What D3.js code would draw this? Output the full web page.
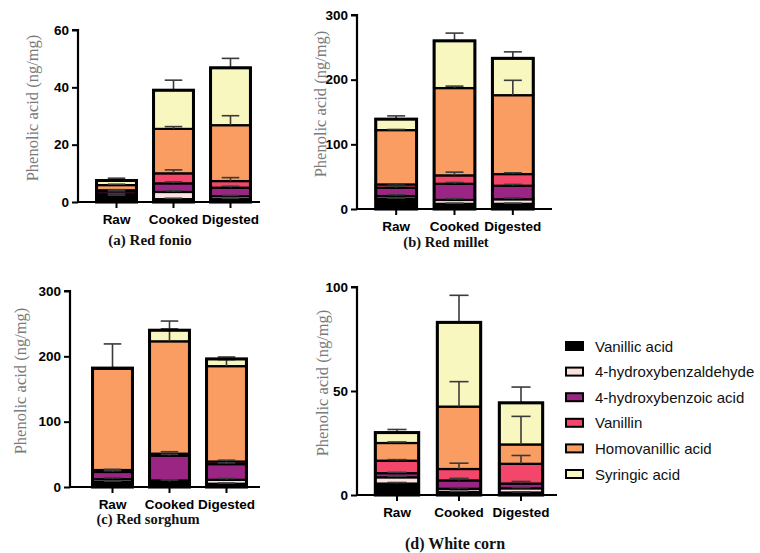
<!DOCTYPE html>
<html><head><meta charset="utf-8">
<script src="https://cdn.jsdelivr.net/npm/d3@7"></script>
<style>body{margin:0;background:#fff}svg{display:block}</style>
</head><body>
<svg id="chart" width="760" height="553"></svg>
<script>
const categories = ["Raw", "Cooked", "Digested"];
const compounds = ["Vanillic acid", "4-hydroxybenzaldehyde", "4-hydroxybenzoic acid", "Vanillin", "Homovanillic acid", "Syringic acid"];
const compoundColors = ["#000000", "#fbe2df", "#9b2583", "#f2476a", "#fa9d62", "#f8f7c0"];
const panelCaptions = ["(a) Red fonio", "(b) Red millet", "(c) Red sorghum", "(d) White corn"];
const yTitle = "Phenolic acid (ng/mg)";
const ticksA = [0, 20, 40, 60];
const ticksB = [0, 100, 200, 300];
const ticksC = [0, 100, 200, 300];
const ticksD = [0, 50, 100];

// rows = compounds, columns = Raw, Cooked, Digested
const fonioValues = [
  [2.2, 1.0, 1.0],
  [0.5, 2.5, 1.0],
  [1.0, 3.0, 3.0],
  [0.4, 3.5, 2.3],
  [1.8, 15.5, 19.5],
  [1.6, 13.5, 20.0]
];
const fonioErrors = [
  [0.2, 0.3, 0.3],
  [0.2, 0.4, 0.3],
  [0.2, 0.5, 0.5],
  [0.2, 1.2, 1.2],
  [0.3, 0.8, 3.3],
  [0.8, 3.5, 3.3]
];
const milletValues = [
  [16, 8, 8],
  [4, 6, 7],
  [13, 25, 21],
  [5, 13, 18],
  [84, 135, 122],
  [17, 73, 57]
];
const milletErrors = [
  [1, 1, 1],
  [2, 2, 2],
  [2, 2, 2],
  [1, 5, 2],
  [1, 3, 23],
  [5, 12, 10]
];
const sorghumValues = [
  [8, 8, 5],
  [4, 2, 6],
  [11, 38, 24],
  [3, 3, 4],
  [155, 172, 146],
  [1, 17, 11]
];
const sorghumErrors = [
  [1, 3, 1],
  [2, 1, 2],
  [2, 2, 2],
  [1, 3, 2],
  [1, 19, 10],
  [37, 14, 3]
];
const cornValues = [
  [5.5, 1.5, 1.2],
  [3.0, 1.5, 2.0],
  [2.0, 4.0, 2.3],
  [6.0, 5.5, 9.5],
  [8.5, 30.0, 9.3],
  [5.0, 40.5, 20.0]
];
const cornErrors = [
  [0.5, 0.3, 0.3],
  [0.5, 0.5, 0.4],
  [0.4, 1.0, 1.0],
  [0.5, 2.8, 4.0],
  [0.5, 12.0, 13.5],
  [1.5, 13.0, 7.6]
];

const panels = [
  {values: fonioValues, errors: fonioErrors, ticks: ticksA, ax: 78, yTop: 30, y0: 202, xr: [88, 259], xEnd: 260, titleX: 34, cap: [150, 245, 15]},
  {values: milletValues, errors: milletErrors, ticks: ticksB, ax: 357, yTop: 15, y0: 209, xr: [367, 542], xEnd: 552, titleX: 322, cap: [446, 247, 14.5]},
  {values: sorghumValues, errors: sorghumErrors, ticks: ticksC, ax: 70, yTop: 291, y0: 487, xr: [84, 255], xEnd: 260, titleX: 22, cap: [148, 524, 14.5]},
  {values: cornValues, errors: cornErrors, ticks: ticksD, ax: 357, yTop: 287, y0: 495, xr: [366, 552], xEnd: 557, titleX: 324, cap: [455, 549, 16]}
];

const svg = d3.select("#chart");

panels.forEach((p, pi) => {
  const g = svg.append("g");
  const y = d3.scaleLinear().domain([0, d3.max(p.ticks)]).range([p.y0, p.yTop]);
  const x = d3.scaleBand().domain(categories).range(p.xr).paddingInner(0.3).paddingOuter(0.15);
  const rows = categories.map((c, ci) => {
    const o = {cat: c};
    compounds.forEach((k, ki) => { o[k] = p.values[ki][ci]; });
    return o;
  });
  const stacked = d3.stack().keys(compounds)(rows);

  // segments
  stacked.forEach((layer, li) => {
    g.selectAll(null).data(layer).enter().append("rect")
      .attr("x", d => x(d.data.cat))
      .attr("y", d => y(d[1]))
      .attr("width", x.bandwidth())
      .attr("height", d => y(d[0]) - y(d[1]))
      .attr("fill", compoundColors[li])
      .attr("stroke", "#000").attr("stroke-width", 2.2);
  });
  // error bars
  stacked.forEach((layer, li) => {
    layer.forEach((d, ci) => {
      const e = p.errors[li][ci];
      const cx = x(d.data.cat) + x.bandwidth() / 2;
      const cw = x.bandwidth() * 0.22;
      g.append("line").attr("x1", cx).attr("x2", cx).attr("y1", y(d[1])).attr("y2", y(d[1] + e))
        .attr("stroke", "#3a3a3a").attr("stroke-width", 1.6);
      g.append("line").attr("x1", cx - cw).attr("x2", cx + cw).attr("y1", y(d[1] + e)).attr("y2", y(d[1] + e))
        .attr("stroke", "#3a3a3a").attr("stroke-width", 1.6);
    });
  });
  // outer outlines
  const top = stacked[stacked.length - 1];
  g.selectAll(null).data(top).enter().append("rect")
    .attr("x", d => x(d.data.cat))
    .attr("y", d => y(d[1]))
    .attr("width", x.bandwidth())
    .attr("height", d => y(0) - y(d[1]))
    .attr("fill", "none").attr("stroke", "#000").attr("stroke-width", 3);

  // y axis
  const yAxis = g.append("g").attr("transform", `translate(${p.ax},0)`)
    .call(d3.axisLeft(y).tickValues(p.ticks).tickSize(6).tickPadding(3).tickFormat(d3.format("d")));
  yAxis.select(".domain").attr("stroke-width", 2.2).attr("d", `M-6,${p.yTop}H0V${p.y0}`);
  yAxis.selectAll(".tick line").attr("stroke-width", 2);
  yAxis.selectAll("text").attr("font-family", "Liberation Sans, Arial, sans-serif").attr("font-weight", "bold").attr("font-size", 13.5).attr("fill", "#000");

  // x axis
  const xAxis = g.append("g").attr("transform", `translate(0,${p.y0})`)
    .call(d3.axisBottom(x).tickSize(6).tickPadding(6));
  xAxis.select(".domain").attr("stroke-width", 2.2).attr("d", `M${p.ax},0H${p.xEnd}`);
  xAxis.selectAll(".tick line").attr("stroke-width", 2);
  xAxis.selectAll("text").attr("font-family", "Liberation Sans, Arial, sans-serif").attr("font-weight", "bold").attr("font-size", 13.5).attr("fill", "#000");

  // y title
  g.append("text")
    .attr("transform", `translate(${p.titleX},${(p.yTop + p.y0) / 2 - 8}) rotate(-90)`)
    .attr("text-anchor", "middle").attr("dominant-baseline", "middle")
    .attr("font-family", "Liberation Serif, Times New Roman, serif").attr("font-size", 16.5)
    .attr("fill", "#7a7a7a").text(yTitle);

  // caption
  g.append("text").attr("x", p.cap[0]).attr("y", p.cap[1]).attr("text-anchor", "middle")
    .attr("font-family", "Liberation Serif, Times New Roman, serif").attr("font-weight", "bold")
    .attr("font-size", p.cap[2]).attr("fill", "#111").text(panelCaptions[pi]);
});

// legend
const legend = svg.append("g").attr("transform", "translate(565,346)");
compounds.forEach((c, i) => {
  const row = legend.append("g").attr("transform", `translate(0,${i * 25.6})`);
  row.append("rect").attr("x", 1).attr("y", -4).attr("width", 17).attr("height", 8)
    .attr("fill", compoundColors[i]).attr("stroke", "#000").attr("stroke-width", 2);
  row.append("text").attr("x", 30).attr("y", 0).attr("dominant-baseline", "central")
    .attr("font-family", "Liberation Sans, Arial, sans-serif").attr("font-size", 15)
    .attr("fill", "#111").text(c);
});
</script>
</body></html>
